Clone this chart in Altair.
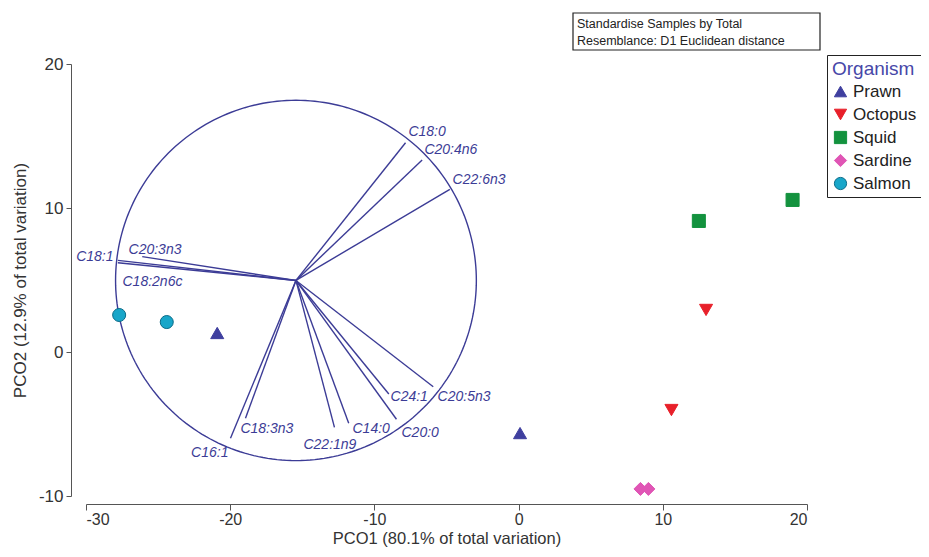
import math
import altair as alt
import pandas as pd

# ---- sample scores (PCO1, PCO2) ----
sample_org = ["Salmon", "Salmon", "Prawn", "Prawn", "Octopus", "Octopus",
              "Squid", "Squid", "Sardine", "Sardine"]
sample_x = [-27.7, -24.4, -20.9, 0.1, 13.0, 10.6, 12.5, 19.0, 8.45, 9.0]
sample_y = [2.57, 2.08, 1.32, -5.63, 2.92, -4.03, 9.10, 10.56, -9.51, -9.51]

organisms = ["Prawn", "Octopus", "Squid", "Sardine", "Salmon"]
org_shapes = ["triangle-up", "triangle-down", "square", "diamond", "circle"]
org_colors = ["#3f3f9f", "#e8202a", "#13923e", "#e055b5", "#18a6c9"]
org_strokes = ["#3f3f9f", "#e8202a", "#13923e", "#e055b5", "#0b6b88"]

# ---- vector overlay (correlation circle) ----
circle_cx, circle_cy, circle_r = -15.44, 4.97, 12.51
vec_names = ["C18:0", "C20:4n6", "C22:6n3", "C18:1", "C18:2n6c", "C20:3n3",
             "C16:1", "C18:3n3", "C22:1n9", "C14:0", "C20:0", "C24:1", "C20:5n3"]
vec_x = [-7.84, -6.69, -4.77, -27.79, -27.79, -26.1,
         -19.98, -18.94, -12.77, -11.78, -8.47, -9.0, -5.92]
vec_y = [14.53, 13.33, 11.30, 6.36, 6.20, 6.62,
         -5.99, -4.6, -5.23, -4.95, -4.67, -2.92, -2.41]
lab_x = [-7.64, -6.53, -4.58, -28.09, -27.47, -27.05,
         -20.12, -19.29, -14.92, -11.52, -8.12, -8.88, -5.62]
lab_y = [15.28, 14.03, 11.94, 6.6, 4.86, 7.08,
         -7.01, -5.35, -6.46, -5.35, -5.63, -3.13, -3.13]
lab_align = ["left", "left", "left", "right", "left", "left",
             "right", "left", "left", "left", "left", "left", "left"]

x_ticks = [-30, -20, -10, 0, 10, 20]
y_ticks = [-10, 0, 10, 20]
box_lines = ["Standardise Samples by Total", "Resemblance: D1 Euclidean distance"]

VEC_COLOR = "#3c3c96"
FONT = "Liberation Sans"

samples = pd.DataFrame({"Organism": sample_org, "x": sample_x, "y": sample_y})
vectors = pd.DataFrame({"name": vec_names, "x0": [circle_cx] * len(vec_names),
                        "y0": [circle_cy] * len(vec_names), "x": vec_x, "y": vec_y,
                        "lx": lab_x, "ly": lab_y, "align": lab_align})
n = 240
circ = pd.DataFrame({
    "i": list(range(n + 1)),
    "x": [circle_cx + circle_r * math.cos(2 * math.pi * k / n) for k in range(n + 1)],
    "y": [circle_cy + circle_r * math.sin(2 * math.pi * k / n) for k in range(n + 1)],
})

xs = alt.Scale(domain=[-30, 20], nice=False, zero=False)
ys = alt.Scale(domain=[-10, 20], nice=False, zero=False)

x_axis = alt.Axis(
    values=x_ticks, title="PCO1 (80.1% of total variation)", grid=False, offset=8,
    domainColor="#555555", tickColor="#555555", tickSize=6, labelFontSize=16,
    titleFontSize=16.5, labelColor="#333333", titleColor="#333333",
    titleFontWeight="normal", labelFont=FONT, titleFont=FONT, titlePadding=3,
    labelPadding=1, labelExpr="'' + datum.value")
y_axis = alt.Axis(
    values=y_ticks, title="PCO2 (12.9% of total variation)", grid=False, offset=15,
    domainColor="#555555", tickColor="#555555", tickSize=5, labelFontSize=17,
    titleFontSize=17, labelColor="#333333", titleColor="#333333",
    titleFontWeight="normal", labelFont=FONT, titleFont=FONT, titlePadding=9,
    labelPadding=3, labelExpr="'' + datum.value")


def X(field):
    return alt.X(field, type="quantitative", scale=xs, axis=x_axis)


def Y(field):
    return alt.Y(field, type="quantitative", scale=ys, axis=y_axis)


circle_layer = alt.Chart(circ).mark_line(color=VEC_COLOR, strokeWidth=1.4).encode(
    x=X("x"), y=Y("y"), order="i:Q")

rules = alt.Chart(vectors).mark_rule(color=VEC_COLOR, strokeWidth=1.4).encode(
    x=X("x0"), y=Y("y0"), x2="x:Q", y2="y:Q")

labels_left = alt.Chart(vectors).transform_filter(alt.datum.align == "left").mark_text(
    align="left", baseline="middle", fontStyle="italic", fontSize=14, font=FONT,
    color=VEC_COLOR).encode(x=X("lx"), y=Y("ly"), text="name:N")
labels_right = alt.Chart(vectors).transform_filter(alt.datum.align == "right").mark_text(
    align="right", baseline="middle", fontStyle="italic", fontSize=14, font=FONT,
    color=VEC_COLOR).encode(x=X("lx"), y=Y("ly"), text="name:N")

legend = alt.Legend(
    title="Organism", orient="none", legendX=741, legendY=-9, strokeColor="#222222",
    padding=5, titleFontSize=19, titleColor="#4747a8", titleFontWeight="normal",
    titleFont=FONT, labelFont=FONT, labelFontSize=17, labelColor="#222222",
    symbolSize=150, rowPadding=5, titlePadding=4, symbolStrokeWidth=1,
    fillColor="white")

points = alt.Chart(samples).mark_point(filled=True, opacity=1, size=170, strokeWidth=1).encode(
    x=X("x"), y=Y("y"),
    shape=alt.Shape("Organism:N", scale=alt.Scale(domain=organisms, range=org_shapes),
                    legend=legend),
    color=alt.Color("Organism:N", scale=alt.Scale(domain=organisms, range=org_colors),
                    legend=legend),
    stroke=alt.Stroke("Organism:N", scale=alt.Scale(domain=organisms, range=org_strokes),
                      legend=legend),
)

box_df = pd.DataFrame({"a": [0]})
box = alt.Chart(box_df).mark_rect(fill="white", stroke="#222222", strokeWidth=1.2).encode(
    x=alt.value(487), x2=alt.value(734), y=alt.value(-51), y2=alt.value(-14))
box_txt = pd.DataFrame({"t": box_lines, "yy": [-40, -23]})
box_text = alt.Chart(box_txt).mark_text(
    align="left", baseline="middle", fontSize=12.5, font=FONT, color="#222222").encode(
    x=alt.value(491), y=alt.Y("yy:Q", scale=None), text="t:N")

chart = alt.layer(circle_layer, rules, labels_left, labels_right, points, box, box_text).properties(
    width=721, height=432,
    autosize=alt.AutoSizeParams(type="none"),
    padding={"left": 78, "top": 56, "right": 114, "bottom": 53},
    background="white",
).configure_view(strokeWidth=0)

chart.save("out.html", embed_options={"renderer": "svg", "actions": False})
